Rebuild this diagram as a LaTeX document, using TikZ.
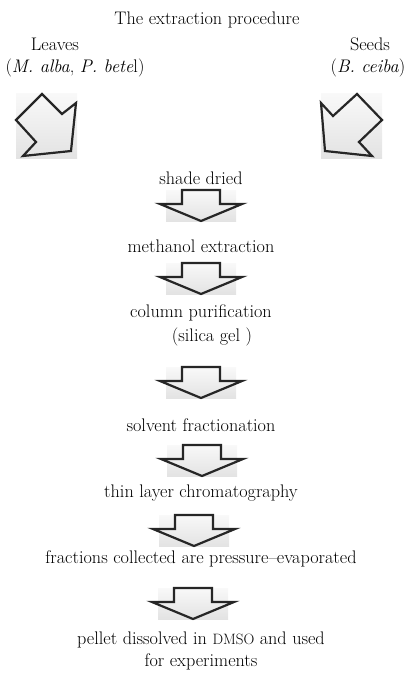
\documentclass[tikz,border=0pt]{standalone}
\usepackage{tikz}
\usetikzlibrary{positioning}
\usetikzlibrary{math}

\tikzset{
  steptext/.style={font=\fontsize{18.2}{21.5}\selectfont, text=black, inner sep=0pt},
  boxbg/.style={top color=gray!5, bottom color=gray!22, draw=none},
  blockline/.style={line width=2.2pt, line join=miter, draw=black!85},
  % block arrow with its grey backing, (0,0) is the top middle of the stem
  pics/downarrow/.style={code={
    \fill[boxbg] (-35,0) rectangle (35,31);
    \draw[blockline] (-\stemw,0) -- (\stemw,0) -- (\stemw,\stemh)
      -- (\headw,\stemh) -- (0,\tiph) -- (-\headw,\stemh) -- (-\stemw,\stemh) -- cycle;
  }}
}

\begin{document}
\begin{tikzpicture}[x=1pt,y=-1pt]

  \tikzmath{
    \stemw = 19; % half width of the stem
    \headw = 41; % half width of the head
    \stemh = 14; % height of the stem
    \tiph  = 31; % height up to the tip
  }

  \useasboundingbox (0,0) rectangle (412,678);

  % headings
  \node[steptext] (title)    at (207,20)  {The extraction procedure};
  \node[steptext] (leaves)   at (55,44)   {Leaves};
  \node[steptext] (leavessp) at (75,68)   {(\textit{M. alba}, \textit{P. bete}l)};
  \node[steptext] (seeds)    at (370,44)  {Seeds};
  \node[steptext] (seedssp)  at (368,68)  {(\textit{B. ceiba})};

  % corner arrows
  \fill[boxbg] (16,93) rectangle (77,158);
  \draw[blockline] (42,94) -- (62,114) -- (76,103) -- (71,151) -- (23,156)
    -- (36,142) -- (16,120) -- cycle;

  \fill[boxbg] (321,93) rectangle (382,158);
  \draw[blockline] (357,94) -- (333,116) -- (321,103) -- (325,151) -- (372,156)
    -- (359,142) -- (382,120) -- cycle;

  % steps
  \node[steptext] (shade)     at (201,178) {shade dried};
  \node[steptext] (methanol)  at (201,246) {methanol extraction};
  \node[steptext] (column)    at (201,313) {column purification};
  \node[steptext] (silica)    at (212,337) {(silica gel )};
  \node[steptext] (solvent)   at (201,425) {solvent fractionation};
  \node[steptext] (thin)      at (201,493) {thin layer chromatography};
  \node[steptext] (fractions) at (201,559) {fractions collected are pressure--evaporated};
  \node[steptext, align=center] (pellet) at (201,651)
    {pellet dissolved in {\fontsize{15}{21.5}\selectfont DMSO} and used\\for experiments};

  % arrows between the steps
  \pic at (201,190) {downarrow};
  \pic at (201,263) {downarrow};
  \pic at (201,367) {downarrow};
  \pic at (202,445) {downarrow};
  \pic at (194,515) {downarrow};
  \pic at (193,588) {downarrow};

\end{tikzpicture}
\end{document}
